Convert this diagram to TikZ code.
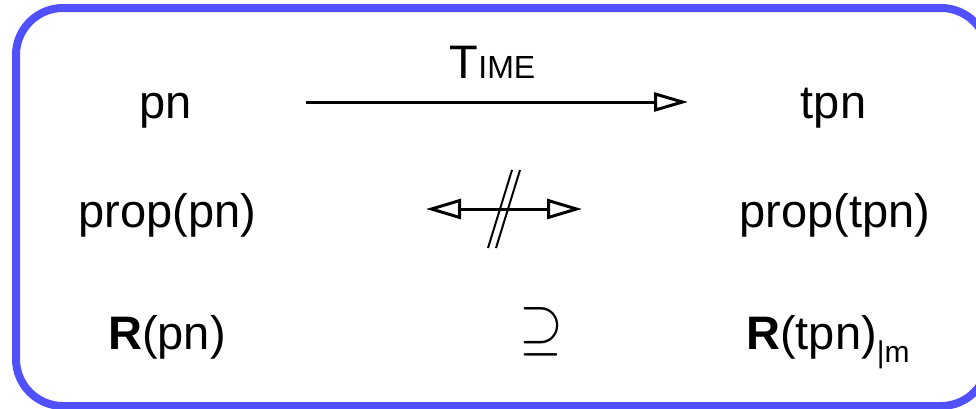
\documentclass[tikz,border=0pt]{standalone}
\usepackage{fontspec}
\setmainfont{Liberation Sans}
\usepackage{graphicx}
\usetikzlibrary{arrows.meta}
\definecolor{frameblue}{RGB}{80,80,255}
\tikzset{
  lbl/.style={inner sep=0pt, anchor=base, font=\fontsize{47}{56}\selectfont},
  arr/.style={line width=3pt, -{Triangle[open, length=34pt, width=19pt, line width=3pt]}},
  darr/.style={line width=3pt, {Triangle[open, length=35pt, width=20pt, line width=3pt]}-{Triangle[open, length=35pt, width=20pt, line width=3pt]}},
  slash/.style={line width=2pt}
}
\begin{document}
\begin{tikzpicture}[x=1pt,y=-1pt]
\useasboundingbox (0,0) rectangle (976,408);
\draw[frameblue, line width=8pt, rounded corners=47pt] (16,8) rectangle (988,406);
% labels
\node[lbl] (pn) at (166,118) {pn};
\node[lbl] (tpn) at (833.5,118) {tpn};
\node[lbl] (proppn) at (167.5,227) {prop(pn)};
\node[lbl] (proptpn) at (835,227) {prop(tpn)};
\node[lbl] (Rpn) at (167,349) {\textbf{R}(pn)};
\node[lbl, anchor=base west] (Rtpn) at (746,349) {\textbf{R}(tpn)\raisebox{-13pt}{\fontsize{30}{30}\selectfont |m}};
\node[inner sep=0pt] (sup) at (541,332) {\resizebox{44pt}{40pt}{$\supseteq$}};
\node[lbl] (time) at (492.5,78) {T\fontsize{32}{32}\selectfont IME};
% top arrow
\coordinate (t1) at (306,102);
\coordinate (t2) at (688,102);
\draw[arr] (t1) -- (t2);
% middle double arrow
\coordinate (m1) at (426,209);
\coordinate (m2) at (582,209);
\draw[darr] (m1) -- (m2);
\coordinate (s1a) at (488,248);
\coordinate (s1b) at (512,170);
\coordinate (s2a) at (496,248);
\coordinate (s2b) at (520,170);
\draw[slash] (s1a) -- (s1b);
\draw[slash] (s2a) -- (s2b);
\end{tikzpicture}
\end{document}
